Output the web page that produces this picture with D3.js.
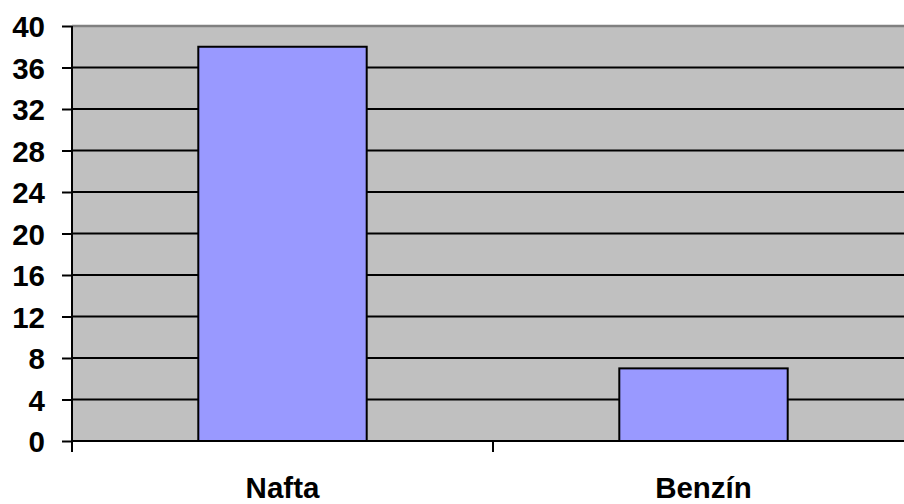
<!DOCTYPE html>
<html><head><meta charset="utf-8">
<script src="https://cdn.jsdelivr.net/npm/d3@7"></script>
<style>body{margin:0;background:#fff}svg{display:block}text{font-family:Arial,"Liberation Sans",sans-serif;font-weight:bold}</style>
</head><body>
<svg id="c" width="904" height="504"></svg>
<script>
const categories = ["Nafta", "Benzín"];
const values = [38, 7];
const yTicks = [0, 4, 8, 12, 16, 20, 24, 28, 32, 36, 40];

const svg = d3.select("#c");
const L = 72, R = 914, T = 26, B = 441;
const x = d3.scaleBand().domain(categories).range([L, R]).paddingInner(0.6).paddingOuter(0.3);
const y = d3.scaleLinear().domain([0, 40]).range([B, T]);

svg.append("rect").attr("x", L).attr("y", T).attr("width", R - L).attr("height", B - T).attr("fill", "#C0C0C0");
svg.append("line").attr("x1", L).attr("x2", R).attr("y1", T).attr("y2", T).attr("stroke", "#808080").attr("stroke-width", 2.5);

svg.append("g").selectAll("line").data(yTicks.filter(d => d > 0 && d < 40)).join("line")
  .attr("x1", L).attr("x2", R).attr("y1", d => y(d)).attr("y2", d => y(d))
  .attr("stroke", "#000").attr("stroke-width", 2);

svg.append("g").selectAll("rect").data(values).join("rect")
  .attr("x", (d, i) => x(categories[i])).attr("width", x.bandwidth())
  .attr("y", d => y(d)).attr("height", d => y(0) - y(d))
  .attr("fill", "#9999FF").attr("stroke", "#000").attr("stroke-width", 2);

// y axis
const ya = svg.append("g").attr("transform", `translate(${L},0)`)
  .call(d3.axisLeft(y).tickValues(yTicks).tickSize(10).tickPadding(17).tickFormat(d3.format("d")));
ya.select(".domain").remove();
ya.append("line").attr("x1", 0).attr("x2", 0).attr("y1", T).attr("y2", B + 11).attr("stroke", "#000").attr("stroke-width", 2);
ya.selectAll(".tick line").attr("stroke", "#000").attr("stroke-width", 2);
ya.selectAll(".tick text").attr("fill", "#000").style("font-size", "29.5px").attr("dy", "0.36em");

// x axis
const xa = svg.append("g").attr("transform", `translate(0,${B})`);
xa.append("line").attr("x1", L).attr("x2", R).attr("stroke", "#000").attr("stroke-width", 2);
xa.selectAll("line.t").data(categories.slice(1)).join("line").attr("class", "t")
  .attr("x1", d => x(d) - x.step() * x.paddingInner() / 2)
  .attr("x2", d => x(d) - x.step() * x.paddingInner() / 2)
  .attr("y1", 0).attr("y2", 11).attr("stroke", "#000").attr("stroke-width", 2);
xa.selectAll("text").data(categories).join("text")
  .attr("x", d => x(d) + x.bandwidth() / 2).attr("y", 57)
  .attr("text-anchor", "middle").style("font-size", "29.5px").attr("fill", "#000").text(d => d);
</script>
</body></html>
